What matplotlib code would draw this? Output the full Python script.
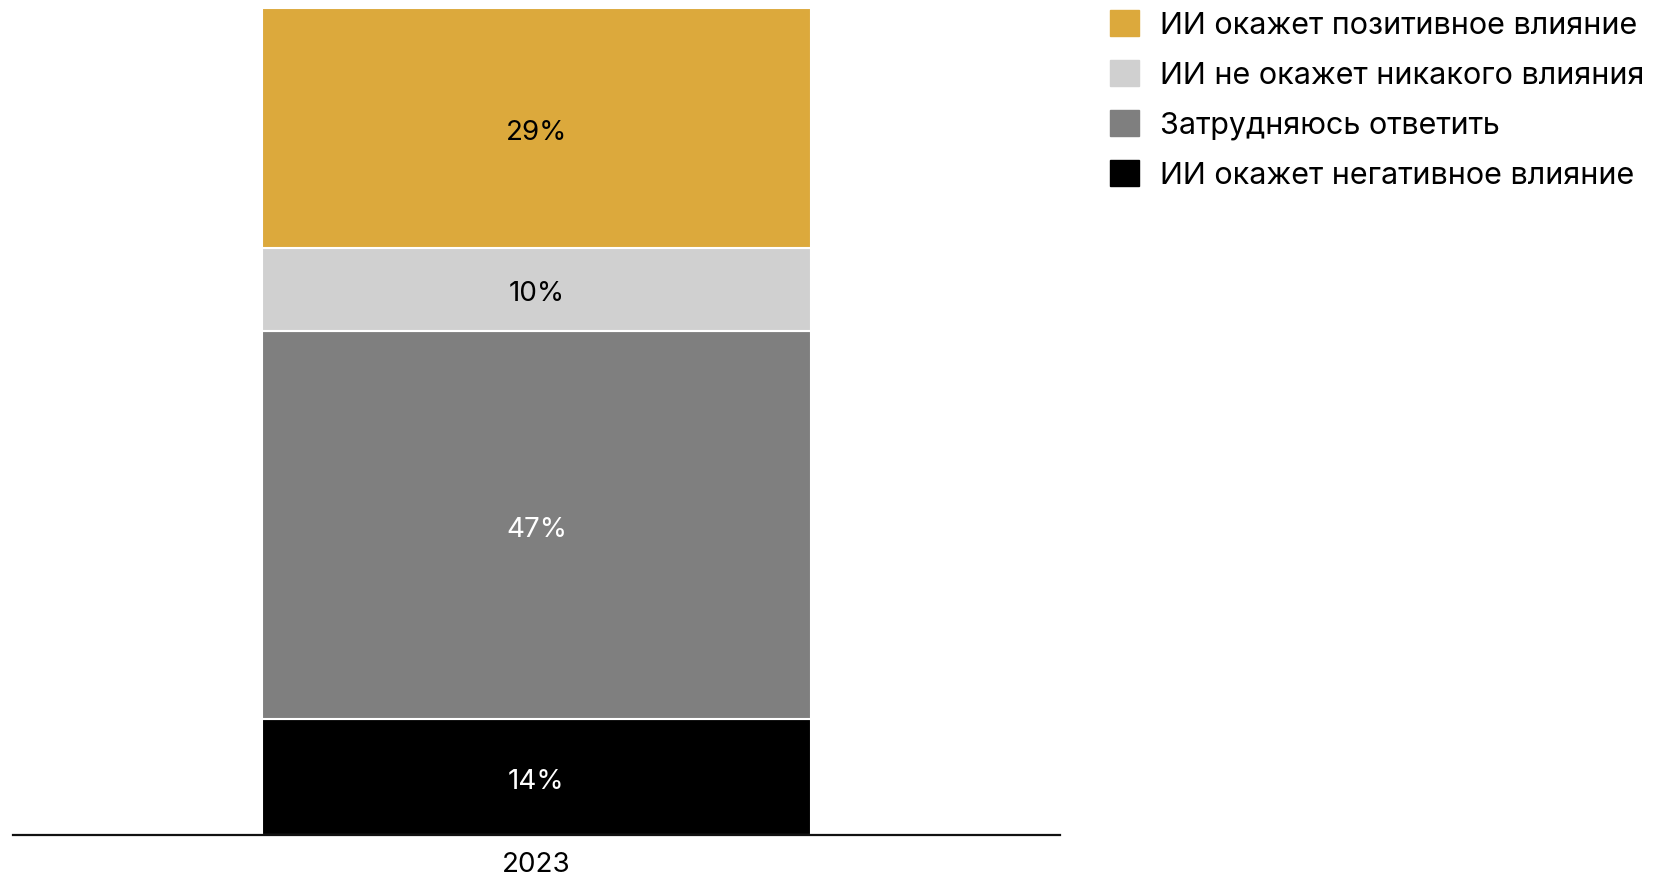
import numpy as np
import matplotlib.pyplot as plt
from matplotlib.patches import Patch
import matplotlib.transforms as mtransforms

plt.rcParams['font.family'] = ['Inter', 'DejaVu Sans']

years = ["2023"]
# stacked from bottom to top
labels = ["ИИ окажет негативное влияние", "Затрудняюсь ответить",
          "ИИ не окажет никакого влияния", "ИИ окажет позитивное влияние"]
values = [14, 47, 10, 29]
colors = ["#000000", "#7f7f7f", "#d0d0d0", "#dca93c"]
text_colors = ["white", "white", "black", "black"]

fig = plt.figure(figsize=(16.55, 8.77), dpi=100)
ax = fig.add_axes([0.0077, 0.0479, 0.6328, 0.9425])

# labels sit a bit lower than the segment centre
shift = mtransforms.offset_copy(ax.transData, fig=fig, x=0, y=-5, units="dots")

x = np.arange(len(years))
bottom = np.zeros(len(years))
for lab, val, col, tc in zip(labels, values, colors, text_colors):
    ax.bar(x, [val], bottom=bottom, width=0.524, color=col,
           edgecolor="white", linewidth=1.5, label=lab)
    ax.text(x[0], bottom[0] + val / 2, f"{val}%", ha="center", va="center",
            fontsize=20, color=tc, transform=shift)
    bottom += val

ax.set_xlim(-0.5, 0.5)
ax.set_ylim(0, 100)
ax.set_xticks(x)
ax.set_xticklabels(years, fontsize=20)
ax.tick_params(axis="x", length=0, pad=12)
ax.set_yticks([])
for s in ["top", "left", "right"]:
    ax.spines[s].set_visible(False)
ax.spines["bottom"].set_linewidth(1.6)
ax.spines["bottom"].set_color("#111111")

handles = [Patch(color=c, label=l) for c, l in zip(colors[::-1], labels[::-1])]
fig.legend(handles=handles, loc="upper left", bbox_to_anchor=(0.6635, 1.0025),
           frameon=False, fontsize=22,
           handlelength=0.95, handleheight=0.95,
           handletextpad=0.68, labelspacing=0.66, borderaxespad=0)

fig.savefig("out.png", dpi=100)
